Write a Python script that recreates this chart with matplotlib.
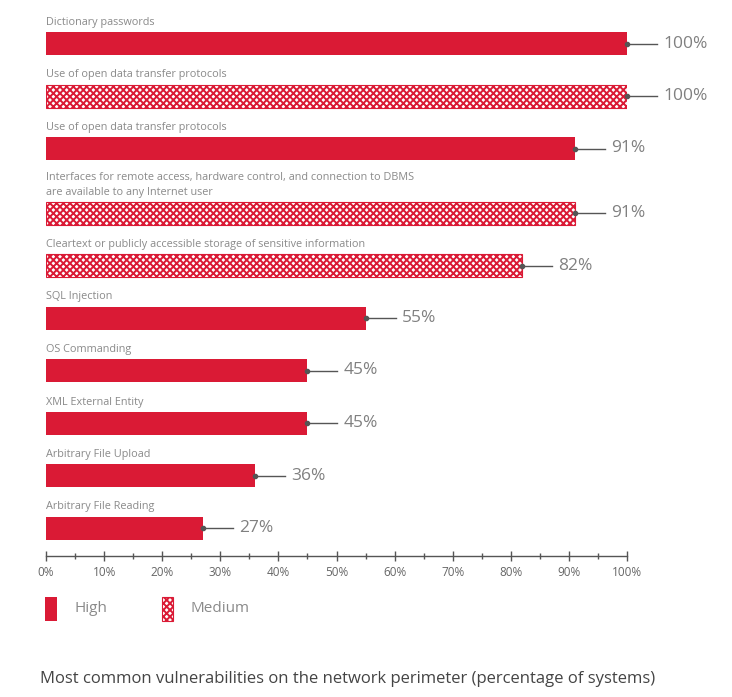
import matplotlib

matplotlib.use("Agg")
import matplotlib.pyplot as plt
from matplotlib.patches import Rectangle
from matplotlib.ticker import MultipleLocator, FuncFormatter

plt.rcParams["font.family"] = ["Open Sans", "DejaVu Sans"]
plt.rcParams["hatch.color"] = "#DA1A35"
plt.rcParams["hatch.linewidth"] = 1.4

RED = "#DA1A35"
GRAY = "#8a8a8a"

categories = [
    "Dictionary passwords",
    "Use of open data transfer protocols",
    "Use of open data transfer protocols",
    "Interfaces for remote access, hardware control, and connection to DBMS\n"
    "are available to any Internet user",
    "Cleartext or publicly accessible storage of sensitive information",
    "SQL Injection",
    "OS Commanding",
    "XML External Entity",
    "Arbitrary File Upload",
    "Arbitrary File Reading",
]
values = [100, 100, 91, 91, 82, 55, 45, 45, 36, 27]
severity = ["High", "Medium", "High", "Medium", "Medium",
            "High", "High", "High", "High", "High"]

W, H = 732, 697
fig = plt.figure(figsize=(W / 100, H / 100), dpi=100)

# axes in pixel-like y units: 0 at top, axis line at 556
x0, x1, y_axis = 46, 627, 556
ax = fig.add_axes([x0 / W, 1 - y_axis / H, (x1 - x0) / W, y_axis / H])
ax.set_xlim(0, 100)
ax.set_ylim(y_axis, 0)

# bar centres: fixed step, plus room for each extra label line
centres = []
y = 43.5
for i, cat in enumerate(categories):
    if i > 0:
        y += 52.5 + 12 * cat.count("\n")
    centres.append(y)

bar_h = 23
px_per_pct = (x1 - x0) / 100
for cat, v, sev, yc in zip(categories, values, severity, centres):
    if sev == "High":
        ax.barh(yc, v, height=bar_h, color=RED, linewidth=0)
    else:
        ax.barh(yc, v, height=bar_h, facecolor="white", edgecolor=RED,
                hatch="xxxxx", linewidth=0.8)
    ax.text(0, yc - bar_h / 2 - 4, cat, fontsize=7.8, color=GRAY,
            ha="left", va="bottom", linespacing=1.45)
    lead = 30 / px_per_pct
    ax.plot([v, v + lead], [yc, yc], color="#555555", lw=1, clip_on=False)
    ax.plot([v], [yc], "o", color="#555555", ms=3, clip_on=False)
    ax.text(v + lead + 6 / px_per_pct, yc, f"{v}%", fontsize=12.5,
            color="#808080", ha="left", va="center", clip_on=False)

for side in ["top", "right", "left"]:
    ax.spines[side].set_visible(False)
ax.spines["bottom"].set_color("#555555")
ax.spines["bottom"].set_linewidth(1)
ax.set_yticks([])
ax.xaxis.set_major_locator(MultipleLocator(10))
ax.xaxis.set_minor_locator(MultipleLocator(5))
ax.xaxis.set_major_formatter(FuncFormatter(lambda v, _: f"{v:.0f}%"))
ax.tick_params(axis="x", which="major", direction="inout", length=7,
               width=1, color="#555555", labelsize=8.5, labelcolor="#666666",
               pad=4)
ax.tick_params(axis="x", which="minor", direction="inout", length=4,
               width=1, color="#555555")

# legend
def fy(py):
    return 1 - py / H

fig.patches.append(Rectangle((45 / W, fy(621)), 12 / W, 24 / H,
                             transform=fig.transFigure, facecolor=RED,
                             linewidth=0))
fig.patches.append(Rectangle((162 / W, fy(621)), 11 / W, 24 / H,
                             transform=fig.transFigure, facecolor="white",
                             edgecolor=RED, hatch="xxxxx", linewidth=0.8))
fig.text(74 / W, fy(609), "High", fontsize=11, color=GRAY,
         ha="left", va="center")
fig.text(190 / W, fy(609), "Medium", fontsize=11, color=GRAY,
         ha="left", va="center")

fig.text(40 / W, fy(679),
         "Most common vulnerabilities on the network perimeter "
         "(percentage of systems)",
         fontsize=12, color="#444444", ha="left", va="center")

fig.savefig("out.png", dpi=100)
